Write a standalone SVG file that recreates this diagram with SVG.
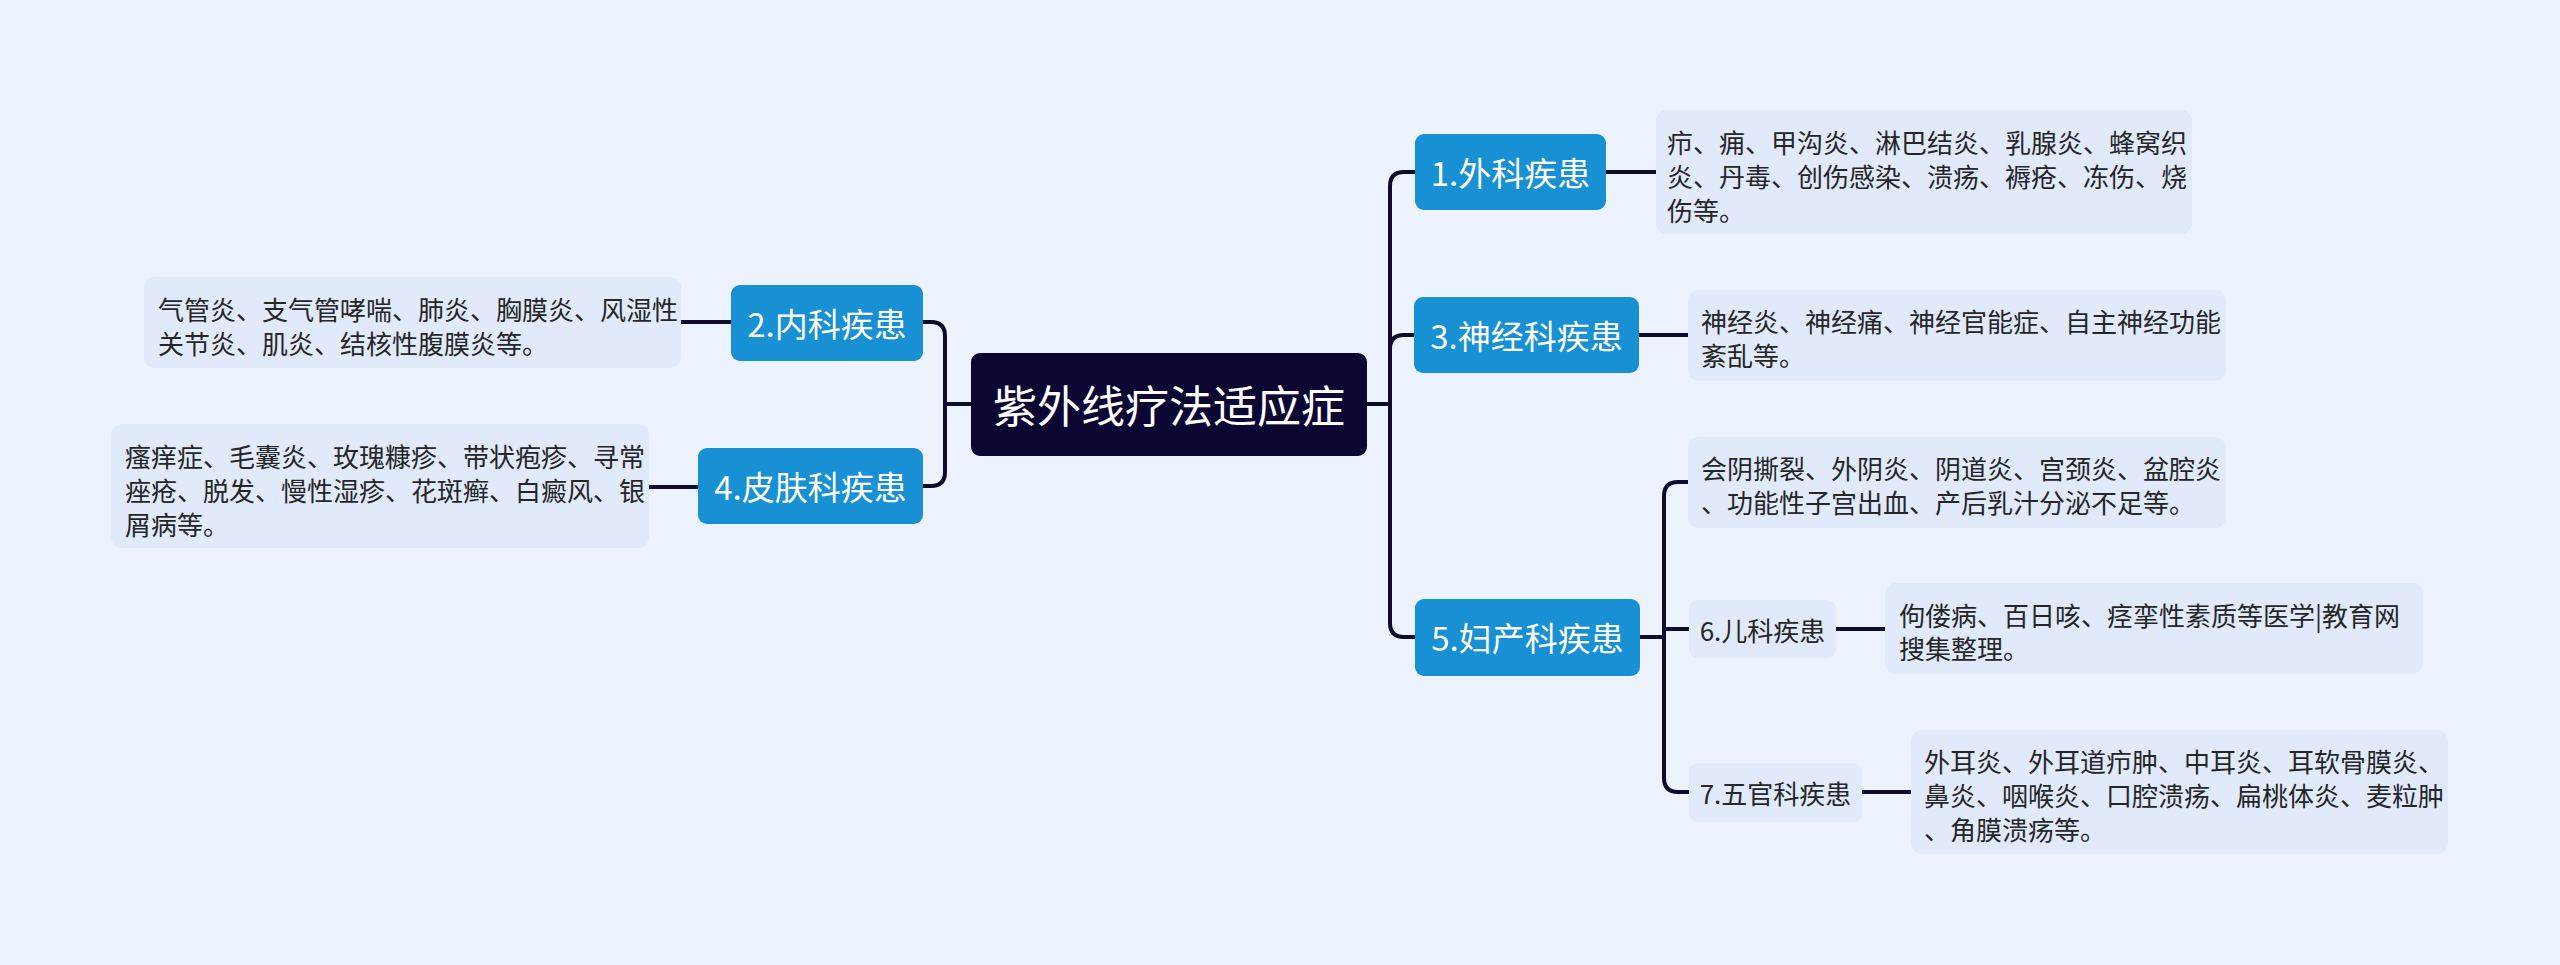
<svg xmlns="http://www.w3.org/2000/svg" width="2560" height="965" viewBox="0 0 2560 965">
<style>
.bg{fill:#edf3fe}
.root{fill:#0c0732}
.main{fill:#1890d4}
.sub{fill:#e0eafb}
.leaf{fill:#e0eafb}
.lnk{fill:none;stroke:#0e0c2a;stroke-width:4;stroke-linecap:round;stroke-linejoin:round}
text{font-family:"Noto Sans CJK SC","Noto Sans",sans-serif;dominant-baseline:central}
.rt{fill:#ffffff;font-size:44px;text-anchor:middle}
.mt{fill:#ffffff;font-size:33px;text-anchor:middle}
.st{fill:#262626;font-size:26px;text-anchor:middle}
.lt{fill:#262626;font-size:26px}
</style>
<rect class="bg" x="0" y="0" width="2560" height="965"/>
<g id="connectors">
<path class="lnk" d="M1367,404 H1390 V186 Q1390,172 1404,172 H1415"/>
<path class="lnk" d="M1367,404 H1390 V349 Q1390,335 1404,335 H1414"/>
<path class="lnk" d="M1367,404 H1390 V623 Q1390,637 1404,637 H1415"/>
<path class="lnk" d="M1606,172 H1656"/>
<path class="lnk" d="M1639,335 H1688"/>
<path class="lnk" d="M1640,637 H1664 V496 Q1664,482 1678,482 H1688"/>
<path class="lnk" d="M1640,637 H1664 V629 H1689"/>
<path class="lnk" d="M1640,637 H1664 V778 Q1664,792 1678,792 H1689"/>
<path class="lnk" d="M1836,629 H1885"/>
<path class="lnk" d="M1862,792 H1911"/>
<path class="lnk" d="M971,404 H945 V336 Q945,322 931,322 H923"/>
<path class="lnk" d="M971,404 H945 V472 Q945,486 931,486 H923"/>
<path class="lnk" d="M681,322 H731"/>
<path class="lnk" d="M649,487 H698"/>
</g>
<g id="root">
<rect class="root" x="971" y="353" width="396" height="103" rx="9"/>
<text class="rt" x="1169" y="404">紫外线疗法适应症</text>
</g>
<g id="n1">
<rect class="main" x="1415" y="134" width="191" height="76" rx="9"/>
<text class="mt" x="1510.5" y="172">1.外科疾患</text>
</g>
<g id="l1">
<rect class="leaf" x="1656" y="110" width="536" height="124" rx="11"/>
<text class="lt" x="1667" y="141">疖、痈、甲沟炎、淋巴结炎、乳腺炎、蜂窝织</text>
<text class="lt" x="1667" y="175">炎、丹毒、创伤感染、溃疡、褥疮、冻伤、烧</text>
<text class="lt" x="1667" y="209">伤等。</text>
</g>
<g id="n3">
<rect class="main" x="1414" y="297" width="225" height="76" rx="9"/>
<text class="mt" x="1526.5" y="335">3.神经科疾患</text>
</g>
<g id="l3">
<rect class="leaf" x="1688" y="290" width="538" height="91" rx="11"/>
<text class="lt" x="1701" y="320">神经炎、神经痛、神经官能症、自主神经功能</text>
<text class="lt" x="1701" y="354">紊乱等。</text>
</g>
<g id="n5">
<rect class="main" x="1415" y="599" width="225" height="77" rx="9"/>
<text class="mt" x="1527.5" y="637">5.妇产科疾患</text>
</g>
<g id="l5">
<rect class="leaf" x="1688" y="437" width="538" height="91" rx="11"/>
<text class="lt" x="1701" y="467">会阴撕裂、外阴炎、阴道炎、宫颈炎、盆腔炎</text>
<text class="lt" x="1701" y="501">、功能性子宫出血、产后乳汁分泌不足等。</text>
</g>
<g id="n6">
<rect class="sub" x="1689" y="600" width="147" height="58" rx="9"/>
<text class="st" x="1762.5" y="629">6.儿科疾患</text>
</g>
<g id="l6">
<rect class="leaf" x="1885" y="583" width="538" height="91" rx="11"/>
<text class="lt" x="1899" y="614">佝偻病、百日咳、痉挛性素质等医学|教育网</text>
<text class="lt" x="1899" y="647">搜集整理。</text>
</g>
<g id="n7">
<rect class="sub" x="1689" y="763" width="173" height="59" rx="9"/>
<text class="st" x="1775.5" y="792">7.五官科疾患</text>
</g>
<g id="l7">
<rect class="leaf" x="1911" y="730" width="537" height="124" rx="11"/>
<text class="lt" x="1924" y="760">外耳炎、外耳道疖肿、中耳炎、耳软骨膜炎、</text>
<text class="lt" x="1924" y="794">鼻炎、咽喉炎、口腔溃疡、扁桃体炎、麦粒肿</text>
<text class="lt" x="1924" y="828">、角膜溃疡等。</text>
</g>
<g id="n2">
<rect class="main" x="731" y="285" width="192" height="76" rx="9"/>
<text class="mt" x="827" y="323">2.内科疾患</text>
</g>
<g id="l2">
<rect class="leaf" x="144" y="277" width="537" height="91" rx="11"/>
<text class="lt" x="158" y="308">气管炎、支气管哮喘、肺炎、胸膜炎、风湿性</text>
<text class="lt" x="158" y="342">关节炎、肌炎、结核性腹膜炎等。</text>
</g>
<g id="n4">
<rect class="main" x="698" y="448" width="225" height="76" rx="9"/>
<text class="mt" x="810.5" y="486">4.皮肤科疾患</text>
</g>
<g id="l4">
<rect class="leaf" x="111" y="424" width="538" height="124" rx="11"/>
<text class="lt" x="125" y="455">瘙痒症、毛囊炎、玫瑰糠疹、带状疱疹、寻常</text>
<text class="lt" x="125" y="489">痤疮、脱发、慢性湿疹、花斑癣、白癜风、银</text>
<text class="lt" x="125" y="523">屑病等。</text>
</g>
</svg>
